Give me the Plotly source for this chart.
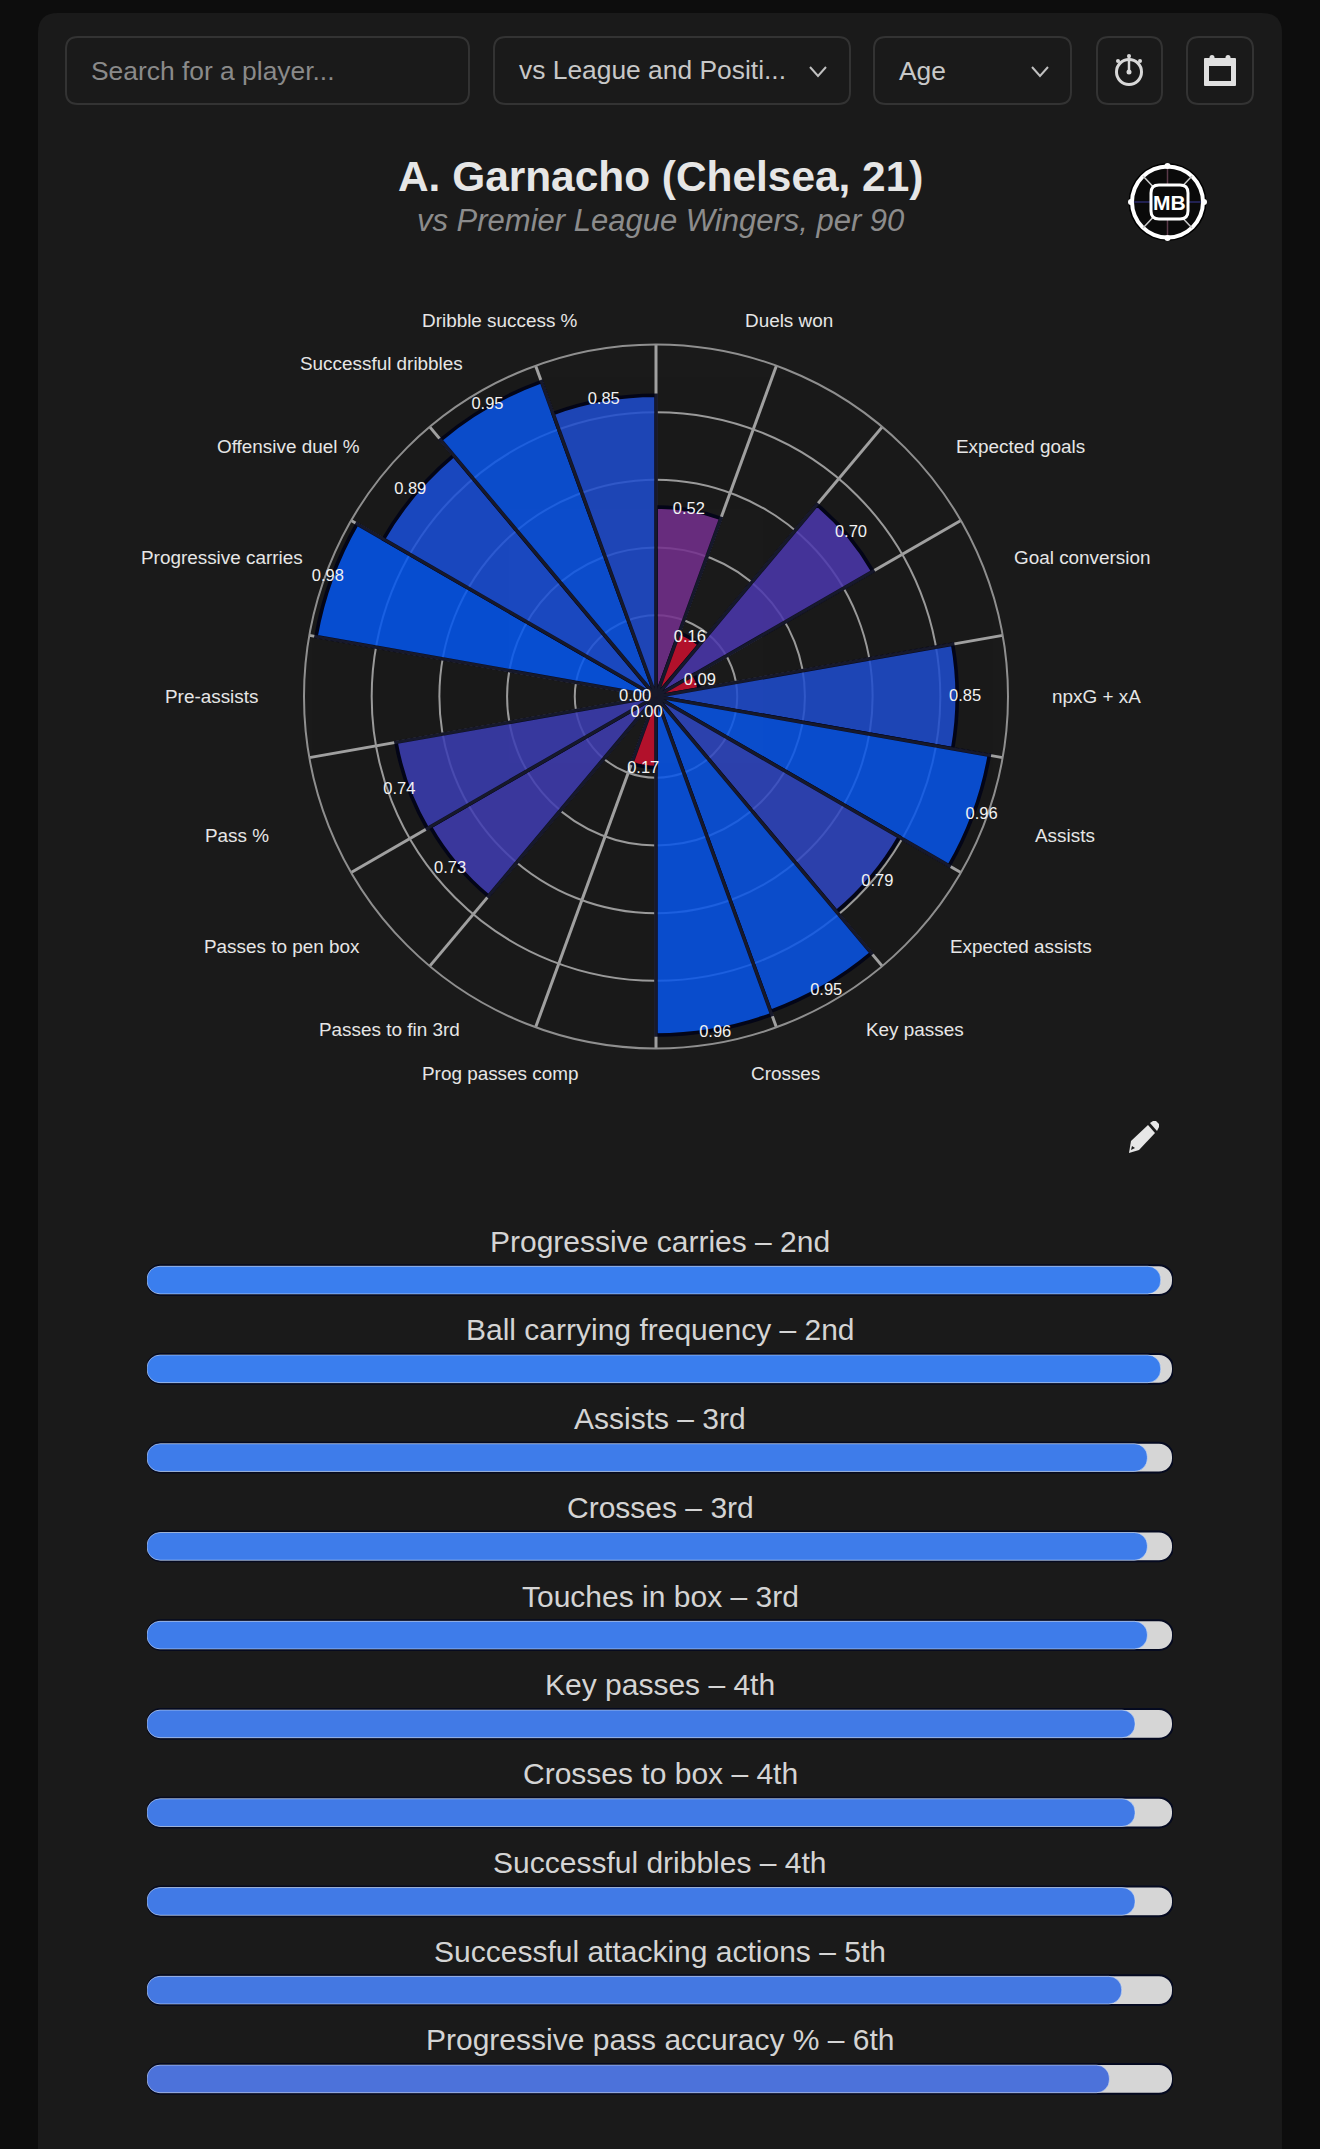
import plotly.graph_objects as go

W, H = 1320, 2149

# ---------- data ----------
metric_names = ["Duels won", "", "Expected goals", "Goal conversion", "npxG + xA", "Assists",
                "Expected assists", "Key passes", "Crosses", "Prog passes comp", "Passes to fin 3rd",
                "Passes to pen box", "Pass %", "Pre-assists", "Progressive carries", "Offensive duel %",
                "Successful dribbles", "Dribble success %"]
metric_values = [0.52, 0.16, 0.70, 0.09, 0.85, 0.96, 0.79, 0.95, 0.96, 0.17, 0.00, 0.73, 0.74, 0.00,
                 0.98, 0.89, 0.95, 0.85]
rank_metrics = ["Progressive carries", "Ball carrying frequency", "Assists", "Crosses", "Touches in box",
                "Key passes", "Crosses to box", "Successful dribbles", "Successful attacking actions",
                "Progressive pass accuracy %"]
rank_labels = ["2nd", "2nd", "3rd", "3rd", "3rd", "4th", "4th", "4th", "5th", "6th"]
rank_percent = [98.8, 98.8, 97.5, 97.5, 97.5, 96.3, 96.3, 96.3, 95.0, 93.8]

# ---------- style ----------
FONT = "Liberation Sans"
colorscale = [[0.0, "#cc102e"], [0.2, "#cc102e"], [0.52, "#74308e"], [0.70, "#4c38ae"], [0.74, "#3c3eb4"],
              [0.79, "#3048c4"], [0.85, "#1f4dd0"], [0.89, "#1a50da"], [0.95, "#0a55e8"], [1.0, "#0058f4"]]
bar_blues = {98.8: "#3a7eee", 97.5: "#3e7cea", 96.3: "#417ae6", 95.0: "#4478e2", 93.8: "#4c72da"}
# the radial axis starts a little below zero, so that zero sits just off the centre
R_MIN = -0.04
# gap between a bar's end and its value label, in radial-axis units
label_gap = [0, 0, .012, .008, .023, .024, .024, .016, .008, .008, .016, .024, .027, .022, .012, .018, .006, 0]
# label centres in page pixels (axis-independent text placement)
label_pos = [(789, 320), None, (1020, 447), (1082, 558), (1096, 696), (1065, 835), (1021, 946), (915, 1029),
             (785, 1073), (500, 1073), (389, 1029), (282, 946), (237, 835), (211, 696), (222, 558), (288, 447),
             (382, 364), (500, 320)]

px = lambda x: x / W
py = lambda y: 1 - y / H


def path(points):
    out = []
    for p in points:
        if isinstance(p, str):
            out.append(p)
        else:
            out.append(f"{px(p[0]):.5f},{py(p[1]):.5f}")
    return " ".join(out)


def rrect(x0, y0, x1, y1, r):
    pts = ["M", (x0 + r, y0), "L", (x1 - r, y0), "Q", (x1, y0), (x1, y0 + r),
           "L", (x1, y1 - r), "Q", (x1, y1), (x1 - r, y1), "L", (x0 + r, y1), "Q", (x0, y1), (x0, y1 - r),
           "L", (x0, y0 + r), "Q", (x0, y0), (x0 + r, y0), "Z"]
    return path(pts)


shapes = []


def add_path(d, fill="rgba(0,0,0,0)", line="rgba(0,0,0,0)", lw=1, layer="below"):
    shapes.append(dict(type="path", xref="paper", yref="paper", path=d, fillcolor=fill,
                       line=dict(color=line, width=lw), layer=layer))


def add_line(pts, color, lw):
    d = ["M", pts[0]]
    for p in pts[1:]:
        d += ["L", p]
    add_path(path(d), line=color, lw=lw)


def add_circle(cx, cy, r, fill="rgba(0,0,0,0)", line="rgba(0,0,0,0)", lw=1, layer="below"):
    shapes.append(dict(type="circle", xref="paper", yref="paper", x0=px(cx - r), x1=px(cx + r),
                       y0=py(cy + r), y1=py(cy - r), fillcolor=fill, line=dict(color=line, width=lw), layer=layer))


# page card
add_path(rrect(38, 13, 1282, H + 30, 20), fill="#1a1a1a")
# controls
for x0, x1 in [(66, 469), (494, 850), (874, 1071), (1097, 1162), (1187, 1253)]:
    add_path(rrect(x0, 37, x1, 104, 12), fill="#1a1a1a", line="#333333", lw=2)
for cx in (818, 1040):
    add_line([(cx - 8, 67), (cx, 76), (cx + 8, 67)], "#c0c0c0", 2)
# stopwatch
add_circle(1129, 72, 12.5, line="#d8d8d8", lw=3)
add_line([(1129, 56), (1129, 73)], "#d8d8d8", 2.5)
add_circle(1129, 72, 2.5, fill="#d8d8d8")
add_circle(1118, 61, 2, fill="#d8d8d8")
add_circle(1140, 61, 2, fill="#d8d8d8")
add_circle(1129, 56, 2, fill="#d8d8d8")
# calendar
add_path(rrect(1204, 58, 1236, 86, 1), fill="#e0e0e0")
add_path(path(["M", (1209, 66), "L", (1231, 66), "L", (1231, 81), "L", (1209, 81), "Z"]), fill="#1a1a1a")
add_circle(1212, 57.5, 2.5, fill="#e0e0e0")
add_circle(1228, 57.5, 2.5, fill="#e0e0e0")
# logo
add_circle(1167.5, 202, 39, fill="#000000")
add_circle(1167.5, 202, 37.5, fill="#ffffff")
add_circle(1167.5, 202, 33.5, fill="#0a0a0a")
for a, b in [((1143, 176), (1192, 228)), ((1192, 176), (1143, 228))]:
    add_line([a, b], "#c8c8c8", 1.5)
add_line([(1167.5, 166), (1167.5, 238)], "#5a3a4a", 1.5)
add_line([(1131, 202), (1204, 202)], "#2a2a6a", 1.5)
add_path(rrect(1151, 185, 1188, 219, 8), fill="#0a0a0a", line="#ffffff", lw=3)
for cx, cy in [(1167.5, 166), (1167.5, 238), (1131, 202), (1204, 202)]:
    add_circle(cx, cy, 3, fill="#ffffff")
# pencil
add_path(path(["M", (1129, 1153), "L", (1131, 1141), "L", (1148, 1125), "L", (1155, 1133), "L", (1139, 1150), "Z"]),
         fill="#e6e6e6")
add_path(path(["M", (1150, 1123), "L", (1153, 1121), "L", (1156, 1121), "L", (1159, 1124), "L", (1159, 1127),
               "L", (1157, 1131), "Z"]), fill="#e6e6e6")
add_path(path(["M", (1131, 1150), "L", (1132, 1146), "L", (1135, 1148), "Z"]), fill="#1a1a1a")

annotations = []


def text(x, y, s, size, color, anchor="center"):
    annotations.append(dict(xref="paper", yref="paper", x=px(x), y=py(y), text=s, showarrow=False,
                            xanchor=anchor, yanchor="middle", align=anchor,
                            font=dict(family=FONT, size=size, color=color)))


text(88.5, 71, "Search for a player...", 26.4, "#8a8a8a", "left")
text(516.5, 70, "vs League and Positi...", 26.4, "#c8c8c8", "left")
text(896.5, 71, "Age", 26.4, "#c8c8c8", "left")
text(660, 177, "<b>A. Garnacho (Chelsea, 21)</b>", 42.4, "#e6e6e6")
text(660, 220.5, "<i>vs Premier League Wingers, per 90</i>", 31, "#8c8c8c")
text(1169, 202, "<b>MB</b>", 21, "#ffffff")
for name, pos in zip(metric_names, label_pos):
    if pos:
        text(pos[0], pos[1], name, 18.9, "#e6e6e6")

theta_centres = [10 + 20 * i for i in range(len(metric_values))]
fig = go.Figure()
# background polar grid
fig.add_trace(go.Scatterpolar(r=[0], theta=[0], mode="lines", subplot="polar", hoverinfo="skip", showlegend=False))
# bars: every wedge starts at the axis minimum and ends at its value
fig.add_trace(go.Barpolar(r=[v - R_MIN for v in metric_values], base=R_MIN, theta=theta_centres,
                          width=[20] * len(metric_values), subplot="polar2", text=metric_names,
                          customdata=metric_values, hovertemplate="%{text}: %{customdata:.2f}<extra></extra>",
                          opacity=0.86,
                          marker=dict(color=metric_values, colorscale=colorscale, cmin=0, cmax=1,
                                      line=dict(color="#000318", width=3.6)),
                          showlegend=False))
fig.add_trace(go.Scatterpolar(r=[v + g for v, g in zip(metric_values, label_gap)], theta=theta_centres,
                              mode="text", subplot="polar2", text=[f"{v:.2f}" for v in metric_values],
                              textposition="middle center", hoverinfo="skip", cliponaxis=False,
                              textfont=dict(family=FONT, size=16.5, color="#f2f2f2"), showlegend=False))

# ranking bars: an explicit base makes the bars round at both ends
n = len(rank_metrics)
fig.add_trace(go.Bar(x=[100] * n, base=[0] * n, y=rank_metrics, orientation="h", width=0.335,
                     marker=dict(color="#d6d6d6", cornerradius=14, line=dict(color="#050a20", width=2)),
                     hoverinfo="skip", showlegend=False))
fig.add_trace(go.Bar(x=rank_percent, base=[0] * n, y=rank_metrics, orientation="h", width=0.312,
                     marker=dict(color=[bar_blues[v] for v in rank_percent], cornerradius=13),
                     hovertemplate="%{y}: %{x}<extra></extra>", showlegend=False))
for m, r in zip(rank_metrics, rank_labels):
    annotations.append(dict(xref="x", yref="y", x=50, y=m, yshift=39, text=f"{m} – {r}", showarrow=False,
                            font=dict(family=FONT, size=30, color="#d4d4d4")))

polar_domain = dict(x=[304 / W, 1008 / W], y=[1 - 1048.5 / H, 1 - 344.5 / H])
fig.update_layout(
    width=W, height=H, autosize=False,
    margin=dict(l=0, r=0, t=0, b=0),
    paper_bgcolor="#0d0d0d", plot_bgcolor="rgba(0,0,0,0)",
    barmode="overlay",
    shapes=shapes, annotations=annotations,
    polar=dict(domain=polar_domain, bgcolor="rgba(0,0,0,0)",
               radialaxis=dict(range=[R_MIN, 1], tickvals=[0.2, 0.4, 0.6, 0.8], showticklabels=False, ticks="",
                               showline=False, gridcolor="#9a9a9a", gridwidth=2),
               angularaxis=dict(direction="clockwise", rotation=90, tickvals=list(range(0, 360, 20)),
                                showticklabels=False, ticks="", gridcolor="#a0a0a0", gridwidth=3.2,
                                linecolor="#8f8f8f", linewidth=2)),
    polar2=dict(domain=polar_domain, bgcolor="rgba(0,0,0,0)",
                radialaxis=dict(range=[R_MIN, 1], visible=False),
                angularaxis=dict(direction="clockwise", rotation=90, visible=False)),
    xaxis=dict(domain=[147 / W, 1173 / W], range=[0, 100], visible=False, fixedrange=True),
    yaxis=dict(domain=[1 - 2123.3 / H, 1 - 1235.7 / H], range=[9.5, -0.5], visible=False, fixedrange=True,
               type="category", categoryorder="array", categoryarray=rank_metrics),
)
fig.write_html("out.html", config={"displayModeBar": False},
               post_script="document.body.style.margin='0';document.body.style.background='#0d0d0d';")
